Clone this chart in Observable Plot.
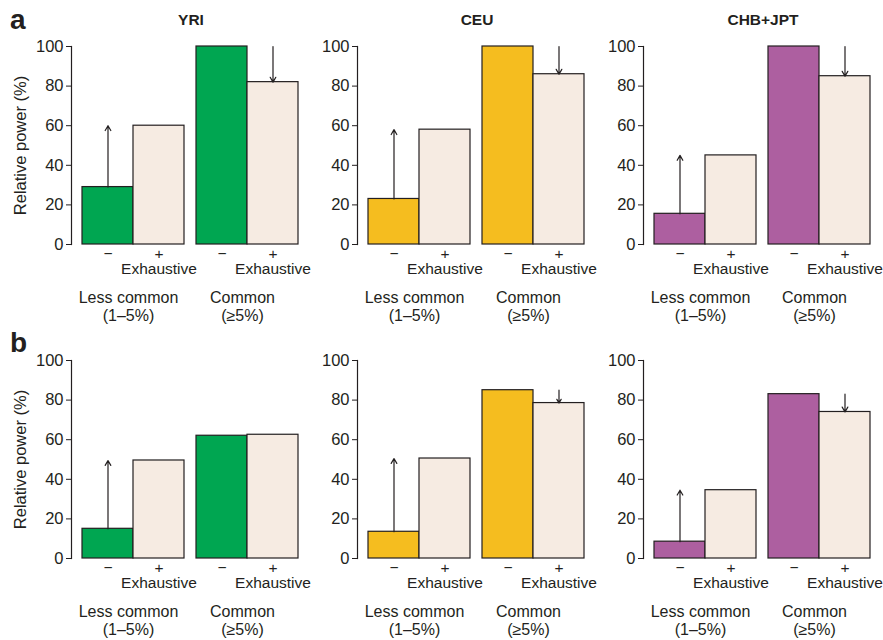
<!DOCTYPE html>
<html><head><meta charset="utf-8">
<script src="https://cdn.jsdelivr.net/npm/d3@7"></script>
<script src="https://cdn.jsdelivr.net/npm/@observablehq/plot@0.6"></script>
<style>
body{margin:0;background:#fff;font-family:"Liberation Sans",Arial,sans-serif;color:#231f20;overflow:hidden}
#fig{position:relative;width:883px;height:640px}
.panel{position:absolute}
.title{position:absolute;font-weight:bold;font-size:15.5px;line-height:1;transform:translateX(-50%);white-space:nowrap}
.letter{position:absolute;font-weight:bold;font-size:28px;line-height:1}
</style></head><body><div id="fig"></div>
<script>
// ---- data ----
const populations = ["YRI", "CEU", "CHB+JPT"];
const popColors = ["#00a651", "#f5bd1f", "#ad5fa0"];
const exhaustiveColor = "#f6ebe2";
const groupLabels = ["Less common\n(1–5%)", "Common\n(≥5%)"];
const exhaustiveKeys = ["−", "+"];
const exhaustiveTickLabels = ["−", "+\nExhaustive"];
const yTicks = [0, 20, 40, 60, 80, 100];
const yLabel = "Relative power (%)";
const rowLetters = ["a", "b"];

// row a
const aLessMinus   = [29, 23, 15.5];
const aLessPlus    = [60, 58, 45];
const aCommonMinus = [100, 100, 100];
const aCommonPlus  = [82, 86, 85];
const aCommonArrow = [true, true, true];
// row b
const bLessMinus   = [15, 13.5, 8.5];
const bLessPlus    = [49.5, 50.5, 34.5];
const bCommonMinus = [62, 85, 83];
const bCommonPlus  = [62.5, 78.5, 74];
const bCommonArrow = [false, true, true];

// ---- layout ----
const ink = "#231f20";
const panelLefts = [0, 286, 572];
const rowTops = [0, 314];
const fig = document.getElementById("fig");

function makePanel(pi, row) {
  const vals = row === 0
    ? [aLessMinus[pi], aLessPlus[pi], aCommonMinus[pi], aCommonPlus[pi]]
    : [bLessMinus[pi], bLessPlus[pi], bCommonMinus[pi], bCommonPlus[pi]];
  const commonArrow = row === 0 ? aCommonArrow[pi] : bCommonArrow[pi];
  const bars = [];
  groupLabels.forEach((g, gi) => exhaustiveKeys.forEach((e, ei) =>
    bars.push({group: g, ex: e, value: vals[gi * 2 + ei]})));
  const arrows = [{group: groupLabels[0], ex: exhaustiveKeys[0], from: vals[0], to: vals[1]}];
  if (commonArrow) arrows.push({group: groupLabels[1], ex: exhaustiveKeys[1], from: vals[2], to: vals[3]});

  return Plot.plot({
    width: 306, height: 324,
    marginLeft: 70, marginRight: 7, marginTop: 46, marginBottom: 80,
    style: {fontFamily: '"Liberation Sans", Arial, sans-serif', fontSize: "16px", color: ink, background: "transparent", overflow: "visible"},
    fx: {domain: groupLabels, padding: 0},
    x: {domain: exhaustiveKeys, padding: 0, insetLeft: 10.5},
    y: {domain: [0, 100]},
    marks: [
      Plot.barY(bars.filter(d => d.ex === exhaustiveKeys[0]), {fx: "group", x: "ex", y: "value", fill: popColors[pi], stroke: ink, strokeWidth: 1.2}),
      Plot.barY(bars.filter(d => d.ex === exhaustiveKeys[1]), {fx: "group", x: "ex", y: "value", fill: exhaustiveColor, stroke: ink, strokeWidth: 1.2}),
      Plot.arrow(arrows, {fx: "group", x1: "ex", x2: "ex", y1: "from", y2: "to", stroke: ink, strokeWidth: 1.2, headLength: 7}),
      Plot.frame({anchor: "left", facetAnchor: "left", stroke: ink, strokeWidth: 1.2}),
      Plot.axisY({ticks: yTicks, tickSize: 5, tickPadding: 3, stroke: ink, fill: ink, fontSize: 16.5,
        label: pi === 0 ? yLabel : null, labelAnchor: "center", labelArrow: "none", labelOffset: 57}),
      Plot.axisX({tickSize: 0, tickPadding: 3, fill: ink, label: null, fontSize: 15.5,
        tickFormat: d => exhaustiveTickLabels[exhaustiveKeys.indexOf(d)]}),
      Plot.axisFx({anchor: "bottom", tickSize: 0, tickPadding: 45, lineHeight: 1.16, fill: ink, label: null, fontSize: 16})
    ]
  });
}

rowTops.forEach((top, row) => {
  populations.forEach((pop, pi) => {
    const wrap = document.createElement("div");
    wrap.className = "panel";
    wrap.style.left = panelLefts[pi] + "px";
    wrap.style.top = top + "px";
    wrap.appendChild(makePanel(pi, row));
    fig.appendChild(wrap);
    if (row === 0) {
      const t = document.createElement("div");
      t.className = "title";
      t.textContent = pop;
      t.style.left = (panelLefts[pi] + 70 + 121) + "px";
      t.style.top = "12px";
      fig.appendChild(t);
    }
  });
  const l = document.createElement("div");
  l.className = "letter";
  l.textContent = rowLetters[row];
  l.style.left = "10px";
  l.style.top = (top + 6 + (row === 1 ? 9 : 0)) + "px";
  fig.appendChild(l);
});
</script></body></html>
